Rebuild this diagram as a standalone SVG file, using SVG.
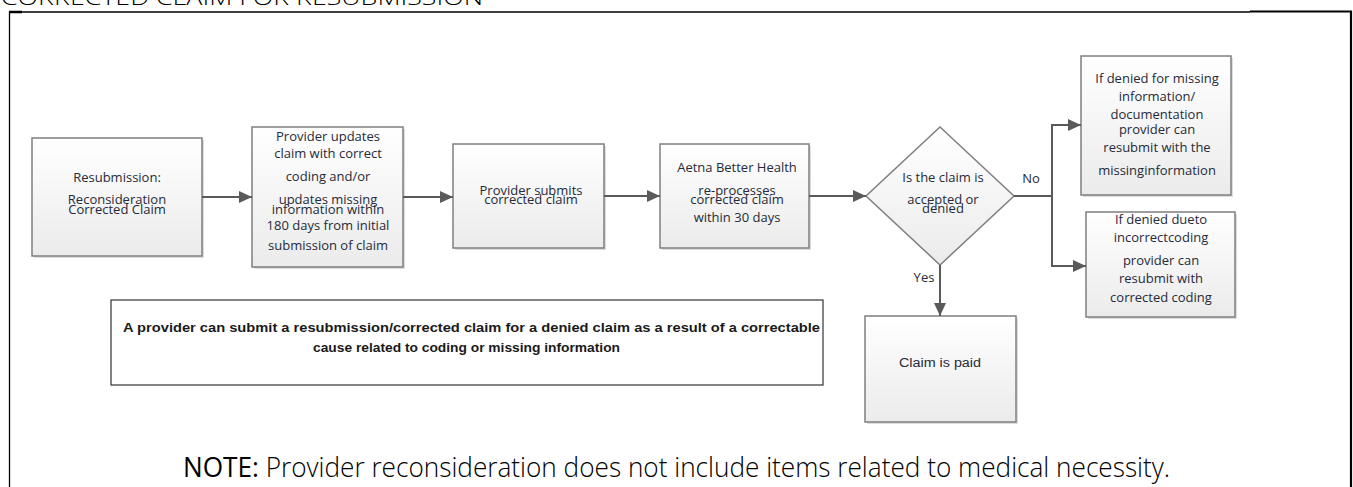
<svg xmlns="http://www.w3.org/2000/svg" width="1353" height="487" viewBox="0 0 1353 487">
<defs>
<linearGradient id="g" x1="0" y1="0" x2="0" y2="1">
<stop offset="0" stop-color="#ffffff"/>
<stop offset="1" stop-color="#ebebeb"/>
</linearGradient>
<marker id="ah" markerUnits="userSpaceOnUse" markerWidth="14" markerHeight="12" refX="13" refY="6" orient="auto">
<path d="M0,0 L13,6 L0,12 z" fill="#5a5a5a"/>
</marker>
<style>
.box{fill:url(#g);stroke:#7f7f7f;stroke-width:1.5}
.sh{fill:#d4d4d4;opacity:0.8}
.t{font-family:"Open Sans","Noto Sans",sans-serif;font-size:13px;fill:#262a3a;text-anchor:middle}
.c{fill:none;stroke:#5a5a5a;stroke-width:2;marker-end:url(#ah)}
.l{fill:none;stroke:#5a5a5a;stroke-width:2}
</style>
</defs>
<rect width="1353" height="487" fill="#ffffff"/>
<text x="1" y="5" font-family="'Open Sans',sans-serif" font-weight="300" font-size="20" textLength="482" lengthAdjust="spacingAndGlyphs" fill="#000">CORRECTED CLAIM FOR RESUBMISSION</text>
<g id="frame" fill="none" stroke="#000">
<path d="M9.5,487 V12 H1250" stroke-width="1.3"/>
<path d="M1250,11.5 H1351 V487" stroke-width="2.2"/>
<path d="M9,12 H22" stroke-width="2.5"/>
</g>
<g id="n1">
<rect class="sh" x="34" y="140" width="170" height="118"/>
<rect class="box" x="32" y="138" width="170" height="118"/>
<text class="t" x="117" y="181.5">Resubmission:</text>
<text class="t" x="117" y="203.5">Reconsideration</text>
<text class="t" x="117" y="213.5">Corrected Claim</text>
</g>
<g id="n2">
<rect class="sh" x="254" y="129" width="151" height="140"/>
<rect class="box" x="252" y="127" width="151" height="140"/>
<text class="t" x="328" y="141">Provider updates</text>
<text class="t" x="328" y="158">claim with correct</text>
<text class="t" x="328" y="181">coding and/or</text>
<text class="t" x="328" y="203.5">updates missing</text>
<text class="t" x="328" y="213.5">information within</text>
<text class="t" x="328" y="230">180 days from initial</text>
<text class="t" x="328" y="249.5">submission of claim</text>
</g>
<g id="n3">
<rect class="sh" x="455" y="146" width="151" height="104"/>
<rect class="box" x="453" y="144" width="151" height="104"/>
<text class="t" x="531" y="194.5">Provider submits</text>
<text class="t" x="531" y="203.5">corrected claim</text>
</g>
<g id="n4">
<rect class="sh" x="662" y="146" width="149" height="104"/>
<rect class="box" x="660" y="144" width="149" height="104"/>
<text class="t" x="737" y="171.5">Aetna Better Health</text>
<text class="t" x="737" y="194.5">re-processes</text>
<text class="t" x="737" y="203.5">corrected claim</text>
<text class="t" x="737" y="221.5">within 30 days</text>
</g>
<g id="n5">
<polygon class="box" points="940,127 1014,196 940,265 866,196"/>
<text class="t" x="943" y="181.5">Is the claim is</text>
<text class="t" x="943" y="203.5">accepted or</text>
<text class="t" x="943" y="213">denied</text>
</g>
<g id="n6">
<rect class="sh" x="1083" y="58" width="150" height="139"/>
<rect class="box" x="1081" y="56" width="150" height="139"/>
<text class="t" x="1157" y="82.5">If denied for missing</text>
<text class="t" x="1157" y="100.5">information/</text>
<text class="t" x="1157" y="118.5">documentation</text>
<text class="t" x="1157" y="133.5">provider can</text>
<text class="t" x="1157" y="151.5">resubmit with the</text>
<text class="t" x="1157" y="174.5">missinginformation</text>
</g>
<g id="n7">
<rect class="sh" x="1088" y="214" width="149" height="105"/>
<rect class="box" x="1086" y="212" width="149" height="105"/>
<text class="t" x="1161" y="223.5">If denied dueto</text>
<text class="t" x="1161" y="241.5">incorrectcoding</text>
<text class="t" x="1161" y="264.5">provider can</text>
<text class="t" x="1161" y="282.5">resubmit with</text>
<text class="t" x="1161" y="301.5">corrected coding</text>
</g>
<g id="n8">
<rect class="sh" x="867" y="318" width="151" height="106"/>
<rect class="box" x="865" y="316" width="151" height="106"/>
<text x="940" y="367" font-family="'Liberation Sans',sans-serif" font-size="12" fill="#262a3a" text-anchor="middle" textLength="82" lengthAdjust="spacingAndGlyphs">Claim is paid</text>
</g>
<g id="n9">
<rect x="111" y="300" width="712" height="85" fill="#fff" stroke="#333" stroke-width="1.2"/>
<text x="123" y="332" font-family="'Liberation Sans',sans-serif" font-weight="bold" font-size="12" fill="#1a1a1a" textLength="697" lengthAdjust="spacingAndGlyphs">A provider can submit a resubmission/corrected claim for a denied claim as a result of a correctable</text>
<text x="313" y="352" font-family="'Liberation Sans',sans-serif" font-weight="bold" font-size="12" fill="#1a1a1a" textLength="307" lengthAdjust="spacingAndGlyphs">cause related to coding or missing information</text>
</g>
<g id="connectors">
<line class="c" x1="202" y1="197" x2="252" y2="197"/>
<line class="c" x1="403" y1="197" x2="453" y2="197"/>
<line class="c" x1="604" y1="196" x2="660" y2="196"/>
<line class="c" x1="809" y1="196" x2="866" y2="196"/>
<line class="l" x1="1014" y1="196" x2="1052" y2="196"/>
<polyline class="c" points="1052,196 1052,125 1081,125"/>
<polyline class="c" points="1052,196 1052,266 1086,266"/>
<line class="c" x1="940" y1="265" x2="940" y2="316"/>
<text class="t" x="1031" y="182.5">No</text>
<text class="t" x="924" y="281.5">Yes</text>
</g>
<text x="183" y="477" font-family="'Open Sans',sans-serif" font-size="27" fill="#000" textLength="987" lengthAdjust="spacingAndGlyphs"><tspan font-weight="400">NOTE:</tspan><tspan font-weight="300"> Provider reconsideration does not include items related to medical necessity.</tspan></text>
</svg>
